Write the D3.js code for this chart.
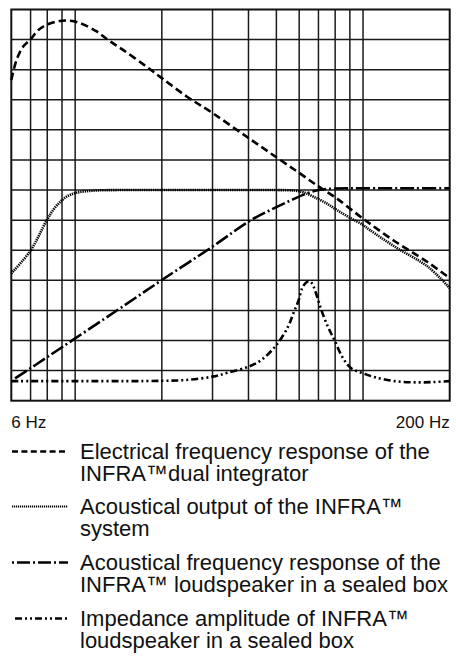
<!doctype html>
<html lang="en">

<head>
    <meta charset="utf-8">
    <title>INFRA frequency response</title>
    <script src="https://cdn.jsdelivr.net/npm/d3@7"></script>
    <style>
        body { margin: 0; background: #fff; }
        text { font-family: "Liberation Sans", Arial, sans-serif; fill: #111; }
    </style>
</head>

<body>
    <svg id="chart" width="456" height="657"></svg>
</body>

<script>
    // frequency grid (Hz) and end labels
    var gridFreqs = [7, 8, 9, 10, 20, 30, 40, 50, 60, 70, 80, 90, 100];
    var axisLabels = ["6 Hz", "200 Hz"];

    // electrical frequency response of the dual integrator (dashed)
    var elecFreq = [6.0, 6.26, 6.6, 7.0, 7.45, 8.07, 8.86, 9.47, 10.39, 11.88, 13.0, 14.66, 17.7, 20, 24.4, 30, 40, 50, 60, 70, 80, 100, 128.8, 168, 200];
    var elecLevel = [10.66, 11.33, 11.77, 12.01, 12.32, 12.52, 12.62, 12.63, 12.55, 12.27, 11.99, 11.66, 11.10, 10.72, 10.11, 9.56, 8.73, 8.09, 7.57, 7.12, 6.76, 6.05, 5.3, 4.6, 4.07];

    // acoustical output of the system (dotted)
    var outFreq = [6, 7, 7.95, 8.39, 8.9, 9.34, 10.1, 11.56, 14, 20, 30, 40, 50, 58, 62, 67.2, 74, 81, 90, 100, 105.7, 128.8, 168, 200];
    var outLevel = [4.23, 4.99, 5.98, 6.34, 6.62, 6.78, 6.91, 6.98, 7.0, 7.0, 7.0, 7.0, 7.0, 6.98, 6.93, 6.78, 6.58, 6.34, 6.08, 5.84, 5.67, 5.12, 4.45, 3.74];

    // acoustical response of the loudspeaker in a sealed box (dash-dot)
    var spkFreq = [6.18, 7, 8, 10, 15, 20, 30, 40, 47.5, 55, 63, 70, 80, 100, 150, 200];
    var spkLevel = [0.74, 1.08, 1.45, 2.07, 3.2, 4.01, 5.12, 5.95, 6.33, 6.62, 6.87, 7.0, 7.05, 7.06, 7.06, 7.06];

    // impedance amplitude (dash-dot-dot)
    var impFreq = [6, 10, 15, 20, 24.4, 30, 33.9, 40, 44.3, 50, 54.9, 57.3, 59.8, 61.5, 63.5, 65, 66.5, 68.2, 71.6, 75.5, 79.7, 85.2, 91, 100, 110, 128.8, 151, 175, 200];
    var impLevel = [0.65, 0.65, 0.65, 0.66, 0.69, 0.80, 0.93, 1.13, 1.35, 1.85, 2.46, 2.91, 3.35, 3.75, 3.93, 3.97, 3.90, 3.65, 3.02, 2.46, 2.0, 1.41, 1.08, 0.91, 0.78, 0.65, 0.61, 0.62, 0.65];

    var legendLabels = [
        ["Electrical frequency response of the", "INFRA\u2122dual integrator"],
        ["Acoustical output of the INFRA\u2122", "system"],
        ["Acoustical frequency response of the", "INFRA\u2122 loudspeaker in a sealed box"],
        ["Impedance amplitude of INFRA\u2122", "loudspeaker in a sealed box"]
    ];

    var styles = [
        { dash: "7.5,4", width: 2.6, legendDash: "6,3.4", legendWidth: 2.4 },
        { dash: "1.3,0.9", width: 2.6, legendDash: "1.2,0.8", legendWidth: 2 },
        { dash: "14,3,2,3", width: 2.6, legendDash: "2,3,13,3", legendWidth: 2.4 },
        { dash: "7,3,2,3,2,3", width: 2.6, legendDash: "7,3,2,3,2,3", legendWidth: 2.4 }
    ];

    var svg = d3.select("#chart");
    var plotL = 11.3, plotR = 449.7, plotT = 9.5, plotB = 400.7;

    var x = d3.scaleLog().domain([6, 200]).range([plotL, plotR]);
    var y = d3.scaleLinear().domain([0, 13]).range([plotB, plotT]);

    // grid
    var grid = svg.append("g").attr("stroke", "#1a1a1a").attr("stroke-width", 1.5);
    grid.selectAll("line.v").data(gridFreqs).enter().append("line")
        .attr("x1", d => x(d)).attr("x2", d => x(d))
        .attr("y1", plotT).attr("y2", plotB);
    grid.selectAll("line.h").data(d3.range(1, 13)).enter().append("line")
        .attr("x1", plotL).attr("x2", plotR)
        .attr("y1", d => y(d)).attr("y2", d => y(d));
    svg.append("rect").attr("x", plotL).attr("y", plotT)
        .attr("width", plotR - plotL).attr("height", plotB - plotT)
        .attr("fill", "none").attr("stroke", "#111").attr("stroke-width", 2);

    var line = d3.line().x(d => x(d[0])).y(d => y(d[1])).curve(d3.curveCatmullRom.alpha(0.5));
    var series = [
        d3.zip(elecFreq, elecLevel),
        d3.zip(outFreq, outLevel),
        d3.zip(spkFreq, spkLevel),
        d3.zip(impFreq, impLevel)
    ];
    svg.append("g").selectAll("path").data(series).enter().append("path")
        .attr("d", line)
        .attr("fill", "none").attr("stroke", "#000")
        .attr("stroke-width", (d, i) => styles[i].width)
        .attr("stroke-dasharray", (d, i) => styles[i].dash);

    // axis end labels
    svg.append("text").attr("x", plotL).attr("y", 428).attr("font-size", 17).text(axisLabels[0]);
    svg.append("text").attr("x", plotR).attr("y", 428).attr("font-size", 17)
        .attr("text-anchor", "end").text(axisLabels[1]);

    // legend
    var legend = svg.append("g");
    var groupY = [459, 514, 570, 626];
    legendLabels.forEach(function (lines, i) {
        var g = legend.append("g").attr("transform", `translate(0,${groupY[i]})`);
        g.append("line").attr("x1", i === 3 ? 15 : 12).attr("x2", 68).attr("y1", -7.5).attr("y2", -7.5)
            .attr("stroke", "#000").attr("stroke-width", styles[i].legendWidth)
            .attr("stroke-dasharray", styles[i].legendDash);
        g.selectAll("text").data(lines).enter().append("text")
            .attr("x", 80).attr("y", (d, j) => j * 21.5)
            .attr("font-size", 22).text(d => d);
    });
</script>

</html>
